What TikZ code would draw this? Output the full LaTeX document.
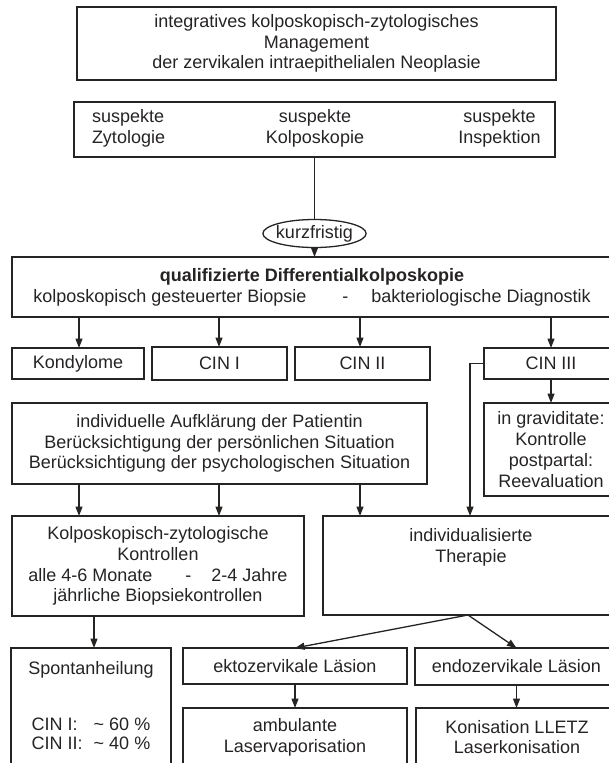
\documentclass[tikz,border=0pt]{standalone}
\usepackage{fontspec}
\setmainfont{Liberation Sans}
\usetikzlibrary{arrows.meta,shapes.geometric}
\definecolor{ink}{HTML}{262323}
\begin{document}
\begin{tikzpicture}[x=1pt,y=-1pt,
  every node/.style={font=\fontsize{18}{20.8}\selectfont, text=ink},
  box/.style={draw=ink, line width=1.3pt, rectangle, inner sep=0pt, outer sep=0pt, align=center},
  txt/.style={inner sep=0pt, outer sep=0pt, align=center},
  ln/.style={draw=ink, line width=1.3pt},
  arr/.style={draw=ink, line width=1.3pt, -{Triangle[length=9.5pt,width=7pt]}}]
\useasboundingbox (0,0) rectangle (608,763);

% top
\node[box, minimum width=479pt, minimum height=73pt] (top) at (316.5,43.5)
  {integratives kolposkopisch-zytologisches\\Management\\der zervikalen intraepithelialen Neoplasie};

% suspekte box
\node[box, minimum width=481pt, minimum height=55pt] (sus) at (314.5,129.5) {};
\node[txt, anchor=west, align=left] (susz) at (92,128) {suspekte\\Zytologie};
\node[txt] (susk) at (315,128) {suspekte\\Kolposkopie};
\node[txt] (susi) at (499.5,128) {suspekte\\Inspektion};

% ellipse
\node[draw=ink, line width=1.3pt, ellipse, inner xsep=-2pt, inner ysep=1pt, minimum height=28pt, outer sep=0pt] (ell) at (314.5,233.5) {kurzfristig};

% qualifizierte
\node[box, minimum width=600pt, minimum height=60pt] (qual) at (312,287)
  {\textbf{qualifizierte Differentialkolposkopie}\\kolposkopisch gesteuerter Biopsie\hspace{36pt}-\hspace{23pt}bakteriologische Diagnostik};

% CIN row
\node[box, minimum width=132pt, minimum height=31pt] (kon) at (78,363.5) {Kondylome};
\node[box, minimum width=135pt, minimum height=33pt] (cin1) at (219.5,363.5) {CIN I};
\node[box, minimum width=135pt, minimum height=33pt] (cin2) at (362.5,363.5) {CIN II};
\node[box, minimum width=134pt, minimum height=31pt] (cin3) at (551,363.5) {CIN III};

% individuelle
\node[box, minimum width=415pt, minimum height=81pt] (indiv) at (219.5,443.5)
  {individuelle Aufklärung der Patientin\\Berücksichtigung der persönlichen Situation\\Berücksichtigung der psychologischen Situation};
\node[box, minimum width=134pt, minimum height=93pt] (grav) at (551,449.5)
  {in graviditate:\\Kontrolle\\postpartal:\\Reevaluation};

% Kontrollen / Therapie
\node[box, minimum width=292pt, minimum height=100pt] (kolp) at (158,566)
  {Kolposkopisch-zytologische\\Kontrollen\\alle 4-6 Monate\hspace{33pt}-\hspace{20pt}2-4 Jahre\\jährliche Biopsiekontrollen};
\node[box, minimum width=295pt, minimum height=99pt] (ther) at (470.5,565.5) {};
\node[txt] (thertxt) at (471,547.5) {individualisierte\\Therapie};

% bottom row
\node[box, minimum width=160pt, minimum height=132pt] (spont) at (91,714) {};
\node[txt] (sponttxt) at (91,670) {Spontanheilung};
\node[txt] (spontpct) at (91,736) {\begin{tabular}{@{}l@{\hspace{11pt}}l@{}}CIN I: & \textasciitilde{} 60 \%\\[-1.2pt] CIN II: & \textasciitilde{} 40 \%\end{tabular}};
\node[box, minimum width=224pt, minimum height=36pt] (ekto) at (295,666) {ektozervikale Läsion};
\node[box, minimum width=203pt, minimum height=37pt] (endo) at (516.5,666.5) {endozervikale Läsion};
\node[box, minimum width=224pt, minimum height=58pt] (amb) at (295,737) {ambulante\\Laservaporisation};
\node[box, minimum width=202pt, minimum height=58pt] (koni) at (517,737) {Konisation LLETZ\\Laserkonisation};

% helper x positions
\coordinate (xa) at (79,0);
\coordinate (xb) at (219,0);
\coordinate (xc) at (360,0);
\coordinate (xd) at (551,0);
\coordinate (xe) at (470,0);
\coordinate (xf) at (94,0);
\coordinate (xg) at (468,0);

% connectors
\draw[ln] (sus.south -| ell.north) -- (ell.north);
\draw[arr] (ell.south) -- (ell.south |- qual.north);
\draw[arr] (qual.south -| xa) -- (kon.north -| xa);
\draw[arr] (qual.south -| xb) -- (cin1.north -| xb);
\draw[arr] (qual.south -| xc) -- (cin2.north -| xc);
\draw[arr] (qual.south -| xd) -- (cin3.north -| xd);
\draw[arr] (cin3.south -| xd) -- (grav.north -| xd);
\draw[arr] (cin3.west) -- (cin3.west -| xe) -- (ther.north -| xe);
\draw[arr] (indiv.south -| xa) -- (kolp.north -| xa);
\draw[arr] (indiv.south -| xb) -- (kolp.north -| xb);
\draw[arr] (indiv.south -| xc) -- (ther.north -| xc);
\draw[arr] (kolp.south -| xf) -- (spont.north -| xf);
\draw[arr] (ther.south -| xg) -- (ekto.north);
\draw[arr] (ther.south -| xg) -- (endo.north);
\draw[arr] (ekto.south) -- (amb.north);
\draw[arr] (endo.south) -- (endo.south |- koni.north);
\end{tikzpicture}
\end{document}
